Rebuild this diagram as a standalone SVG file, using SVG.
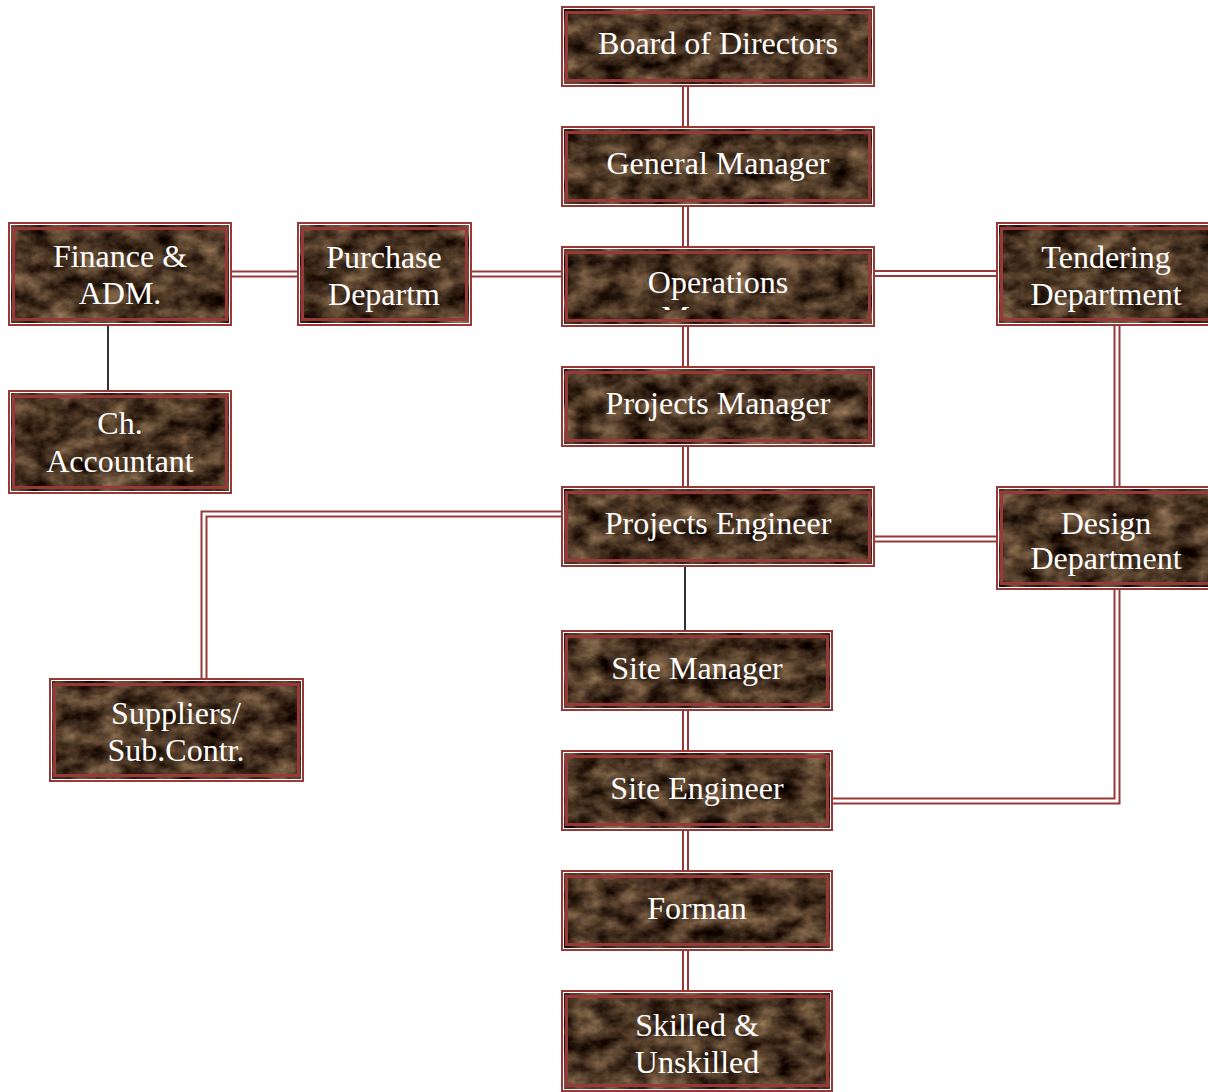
<svg xmlns="http://www.w3.org/2000/svg" width="1208" height="1092" viewBox="0 0 1208 1092">
  <defs>
    <filter id="marbleF" x="0" y="0" width="1" height="1" color-interpolation-filters="sRGB">
      <feTurbulence type="fractalNoise" baseFrequency="0.04 0.055" numOctaves="4" seed="11" result="n"/>
      <feColorMatrix in="n" type="matrix" values="0.72 0 0 0 -0.07  0.62 0 0 0 -0.1  0.48 0 0 0 -0.1  0 0 0 0 1"/>
    </filter>
    <clipPath id="opsClip">
      <rect x="561" y="246" width="314" height="64"/>
    </clipPath>
    <style>
      .outer { fill: #ffffff; stroke: #983838; stroke-width: 2; }
      .tex { fill: #4a3020; filter: url(#marbleF); }
      .inner { fill: none; stroke: #983838; stroke-width: 3; }
      .lbl { font-family: "Liberation Serif", "Times New Roman", serif; font-size: 32px; fill: #ffffff; text-anchor: middle; }
      .dblR { fill: none; stroke: #983838; stroke-width: 7; }
      .dblW { fill: none; stroke: #ffffff; stroke-width: 3; }
      .blk { fill: none; stroke: #000000; stroke-width: 1.6; }
    </style>
  </defs>

  <g id="connectors">
    <g id="double-red">
      <path class="dblR" d="M685.5 86 V127 M685.5 206 V247 M685.5 326 V367 M685.5 446 V487 M685.5 710 V751 M685.5 830 V871 M685.5 950 V991 M232 274 H297 M472 274 H561 M875 273.5 H996 M1117 326 V487 M875 539 H996 M561 514 H204 V679 M1117 589 V801 H832"/>
      <path class="dblW" d="M685.5 86 V127 M685.5 206 V247 M685.5 326 V367 M685.5 446 V487 M685.5 710 V751 M685.5 830 V871 M685.5 950 V991 M232 274 H297 M472 274 H561 M875 273.5 H996 M1117 326 V487 M875 539 H996 M561 514 H204 V679 M1117 589 V801 H832"/>
    </g>
    <path class="blk" d="M685 567 V631 M108 326 V391"/>
  </g>

  <g id="board-of-directors">
    <rect class="outer" x="562" y="7" width="312" height="79"/>
    <rect class="tex" x="564" y="9" width="308" height="75"/>
    <rect class="inner" x="566.5" y="12.5" width="303" height="68"/>
    <text class="lbl" x="718" y="54">Board of Directors</text>
  </g>

  <g id="general-manager">
    <rect class="outer" x="562" y="127" width="312" height="79"/>
    <rect class="tex" x="564" y="129" width="308" height="75"/>
    <rect class="inner" x="566.5" y="132.5" width="303" height="68"/>
    <text class="lbl" x="718" y="174">General Manager</text>
  </g>

  <g id="operations-manager">
    <rect class="outer" x="562" y="247" width="312" height="79"/>
    <rect class="tex" x="564" y="249" width="308" height="75"/>
    <rect class="inner" x="566.5" y="252.5" width="303" height="68"/>
    <text class="lbl" x="718" y="293">Operations</text>
    <text class="lbl" x="718" y="328" clip-path="url(#opsClip)">Manager</text>
  </g>

  <g id="projects-manager">
    <rect class="outer" x="562" y="367" width="312" height="79"/>
    <rect class="tex" x="564" y="369" width="308" height="75"/>
    <rect class="inner" x="566.5" y="372.5" width="303" height="68"/>
    <text class="lbl" x="718" y="414">Projects Manager</text>
  </g>

  <g id="projects-engineer">
    <rect class="outer" x="562" y="487" width="312" height="79"/>
    <rect class="tex" x="564" y="489" width="308" height="75"/>
    <rect class="inner" x="566.5" y="492.5" width="303" height="68"/>
    <text class="lbl" x="718" y="534">Projects Engineer</text>
  </g>

  <g id="site-manager">
    <rect class="outer" x="562" y="631" width="270" height="79"/>
    <rect class="tex" x="564" y="633" width="266" height="75"/>
    <rect class="inner" x="566.5" y="636.5" width="261" height="68"/>
    <text class="lbl" x="697" y="679">Site Manager</text>
  </g>

  <g id="site-engineer">
    <rect class="outer" x="562" y="751" width="270" height="79"/>
    <rect class="tex" x="564" y="753" width="266" height="75"/>
    <rect class="inner" x="566.5" y="756.5" width="261" height="68"/>
    <text class="lbl" x="697" y="799">Site Engineer</text>
  </g>

  <g id="forman">
    <rect class="outer" x="562" y="871" width="270" height="79"/>
    <rect class="tex" x="564" y="873" width="266" height="75"/>
    <rect class="inner" x="566.5" y="876.5" width="261" height="68"/>
    <text class="lbl" x="697" y="919">Forman</text>
  </g>

  <g id="skilled-unskilled">
    <rect class="outer" x="562" y="991" width="270" height="100"/>
    <rect class="tex" x="564" y="993" width="266" height="96"/>
    <rect class="inner" x="566.5" y="996.5" width="261" height="89"/>
    <text class="lbl" x="697" y="1036">Skilled &amp;</text>
    <text class="lbl" x="697" y="1073">Unskilled</text>
  </g>

  <g id="finance-adm">
    <rect class="outer" x="9" y="223" width="222" height="102"/>
    <rect class="tex" x="11" y="225" width="218" height="98"/>
    <rect class="inner" x="13.5" y="228.5" width="213" height="91"/>
    <text class="lbl" x="120" y="267">Finance &amp;</text>
    <text class="lbl" x="120" y="304">ADM.</text>
  </g>

  <g id="ch-accountant">
    <rect class="outer" x="9" y="391" width="222" height="102"/>
    <rect class="tex" x="11" y="393" width="218" height="98"/>
    <rect class="inner" x="13.5" y="396.5" width="213" height="91"/>
    <text class="lbl" x="120" y="434">Ch.</text>
    <text class="lbl" x="120" y="472">Accountant</text>
  </g>

  <g id="purchase-department">
    <rect class="outer" x="298" y="223" width="173" height="102"/>
    <rect class="tex" x="300" y="225" width="169" height="98"/>
    <rect class="inner" x="302.5" y="228.5" width="164" height="91"/>
    <text class="lbl" x="384" y="268">Purchase</text>
    <text class="lbl" x="384" y="305">Departm</text>
  </g>

  <g id="tendering-department">
    <rect class="outer" x="997" y="223" width="220" height="102"/>
    <rect class="tex" x="999" y="225" width="216" height="98"/>
    <rect class="inner" x="1001.5" y="228.5" width="211" height="91"/>
    <text class="lbl" x="1106" y="268">Tendering</text>
    <text class="lbl" x="1106" y="305">Department</text>
  </g>

  <g id="design-department">
    <rect class="outer" x="997" y="487" width="220" height="102"/>
    <rect class="tex" x="999" y="489" width="216" height="98"/>
    <rect class="inner" x="1001.5" y="492.5" width="211" height="91"/>
    <text class="lbl" x="1106" y="534">Design</text>
    <text class="lbl" x="1106" y="569">Department</text>
  </g>

  <g id="suppliers-subcontr">
    <rect class="outer" x="50" y="679" width="253" height="102"/>
    <rect class="tex" x="52" y="681" width="249" height="98"/>
    <rect class="inner" x="54.5" y="684.5" width="244" height="91"/>
    <text class="lbl" x="176" y="724">Suppliers/</text>
    <text class="lbl" x="176" y="761">Sub.Contr.</text>
  </g>
</svg>
